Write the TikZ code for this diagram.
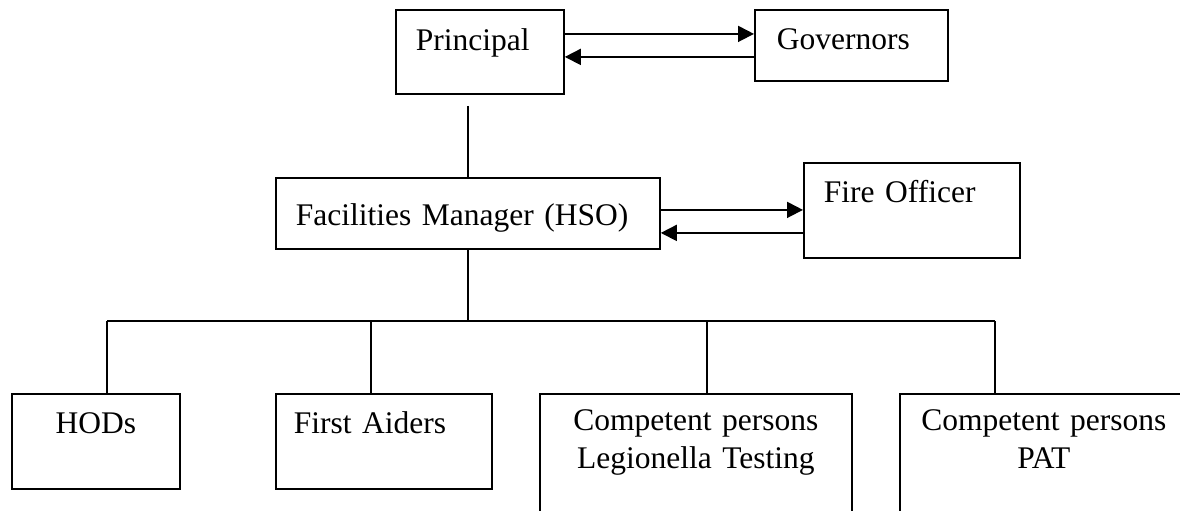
\documentclass[tikz,border=0pt]{standalone}
\usepackage{fontspec}
\setmainfont{Liberation Serif}
\usetikzlibrary{arrows.meta}

\tikzset{
  orgbox/.style={draw, line width=0.9pt, anchor=north west, inner ysep=0pt, inner xsep=10pt,
    font=\fontsize{15.75pt}{19pt}\selectfont},
  link/.style={line width=0.9pt},
  flow/.style={line width=0.9pt, -{Triangle[length=8pt,width=8pt]}}
}

\begin{document}
\begin{tikzpicture}[x=0.5pt,y=-0.5pt]
        \clip (0,0) rectangle (1180,510);
        % top row
        \node[orgbox, align=left, text width=64pt, text height=20.5pt, text depth=21.5pt] (principal) at (395,9) {Principal};
        \node[orgbox, align=left, inner xsep=11pt, text width=74.5pt, text height=20pt, text depth=15.5pt] (governors) at (754,9) {Governors};
        \draw[flow] ([yshift=9pt]principal.east) -- ([yshift=9pt]principal.east -| governors.west);
        \draw[flow] ([yshift=-2.5pt]principal.east -| governors.west) -- ([yshift=-2.5pt]principal.east);
        % middle row
        \node[orgbox, align=left, text width=172pt, text height=24pt, text depth=11.5pt] (facilities) at (275,177) {Facilities Manager (HSO)};
        \node[orgbox, align=left, text width=88pt, text height=20pt, text depth=27.5pt] (fire) at (803,162) {Fire Officer};
        \draw[flow] ([yshift=1.75pt]facilities.east) -- ([yshift=1.75pt]facilities.east -| fire.west);
        \draw[flow] ([yshift=-9.75pt]facilities.east -| fire.west) -- ([yshift=-9.75pt]facilities.east);
        \draw[link] ([yshift=-5.5pt]facilities.north |- principal.south) -- (facilities.north);
        % bottom row
        \node[orgbox, align=center, inner xsep=5pt, text width=74pt, text height=20pt, text depth=27.5pt] (hods) at (11,393) {HODs};
        \node[orgbox, align=left, inner xsep=9pt, text width=90pt, text height=20pt, text depth=27.5pt] (aiders) at (275,393) {First Aiders};
        \node[orgbox, align=center, inner xsep=5pt, text width=146pt, text height=18.5pt, text depth=55pt] (legionella) at (539,393) {Competent persons\\Legionella Testing};
        \node[orgbox, align=center, inner xsep=5pt, text width=134pt, text height=18.5pt, text depth=55pt] (pat) at (899,393) {Competent persons\\PAT};
        \coordinate (drop1) at (107,321);
        \coordinate (drop2) at (371,321);
        \coordinate (drop3) at (707,321);
        \coordinate (drop4) at (995,321);
        \draw[link] (facilities.south) -- (facilities.south |- drop1);
        \draw[link] (drop1) -- (drop4);
        \draw[link] (drop1) -- (drop1 |- hods.north);
        \draw[link] (drop2) -- (drop2 |- aiders.north);
        \draw[link] (drop3) -- (drop3 |- legionella.north);
        \draw[link] (drop4) -- (drop4 |- pat.north);
\end{tikzpicture}
\end{document}
